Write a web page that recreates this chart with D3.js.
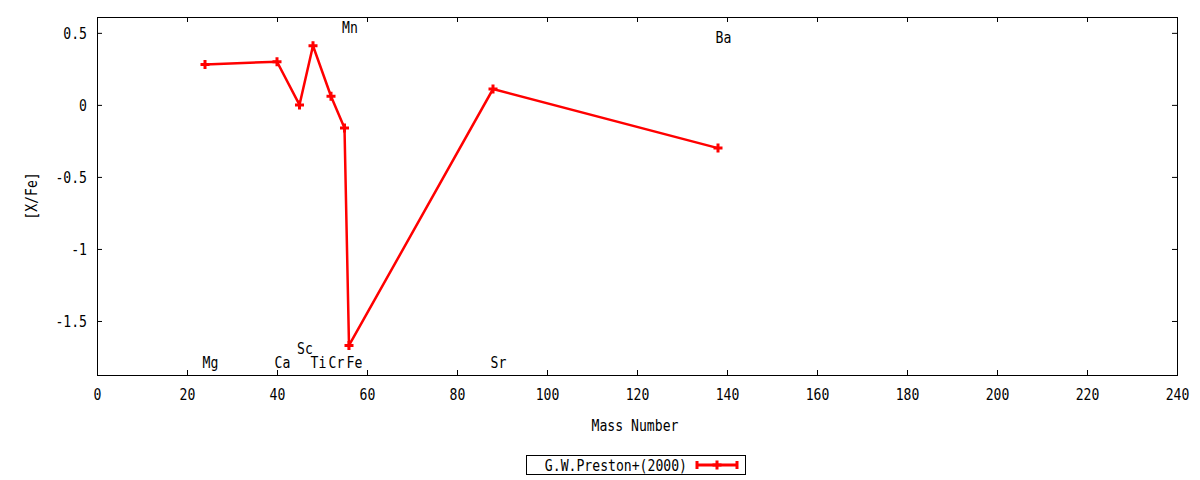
<!DOCTYPE html>
<html>
<head>
<meta charset="utf-8">
<script src="https://cdn.jsdelivr.net/npm/d3@7"></script>
<style>
  body { margin: 0; background: #fff; }
  text { font-family: "DejaVu Sans Mono", monospace; font-size: 16px; fill: #000; }
</style>
</head>
<body>
<div id="chart"></div>
<script>
// Element data: mass number and [X/Fe]
var elements = ['Mg', 'Ca', 'Sc', 'Ti', 'Cr', 'Mn', 'Fe', 'Sr', 'Ba'];
var massNumbers = [24, 40, 45, 48, 52, 55, 56, 88, 138];
var xFe = [0.28, 0.30, 0.00, 0.41, 0.06, -0.16, -1.67, 0.11, -0.30];

// Element name labels (placed at mass number, at these y values)
var labelNames = ['Mg', 'Ca', 'Sc', 'Ti', 'Cr', 'Mn', 'Fe', 'Sr', 'Ba'];
var labelMass = [24, 40, 45, 48, 52, 55, 56, 88, 138];
var labelY = [-1.785, -1.785, -1.69, -1.785, -1.785, 0.54, -1.785, -1.785, 0.47];

var xTicks = [0, 20, 40, 60, 80, 100, 120, 140, 160, 180, 200, 220, 240];
var yTicks = [-1.5, -1, -0.5, 0, 0.5];
var seriesName = 'G.W.Preston+(2000)';

var width = 1200, height = 480;
var margin = {top: 17, right: 23, bottom: 105, left: 97};
var drawWidth = width - margin.left - margin.right;
var drawHeight = height - margin.top - margin.bottom;
var SX = 0.82; // horizontal squeeze to mimic the narrow terminal font
var red = '#ff0000';

function translateString(x, y) {
  return 'translate(' + x + ', ' + y + ')';
}

var svg = d3.select('#chart').append('svg')
  .attr('width', width)
  .attr('height', height);

var x = d3.scaleLinear().domain([0, 240]).range([0, drawWidth]);
var y = d3.scaleLinear().domain([-1.875, 0.61]).range([drawHeight, 0]);

var g = svg.append('g').attr('transform', translateString(margin.left, margin.top));

// Axes: ticks point inward, mirrored on top/right
var tickLen = 5;
var xAxisBottom = g.append('g')
  .attr('transform', translateString(0, drawHeight))
  .call(d3.axisBottom(x).tickValues(xTicks).tickSizeInner(-tickLen).tickSizeOuter(0).tickFormat(d3.format('d')));
var xAxisTop = g.append('g')
  .call(d3.axisTop(x).tickValues(xTicks).tickSizeInner(-tickLen).tickSizeOuter(0).tickFormat(''));
var yAxisLeft = g.append('g')
  .call(d3.axisLeft(y).tickValues(yTicks).tickSizeInner(-tickLen).tickSizeOuter(0).tickFormat(function(d) { return String(d); }));
var yAxisRight = g.append('g')
  .attr('transform', translateString(drawWidth, 0))
  .call(d3.axisRight(y).tickValues(yTicks).tickSizeInner(-tickLen).tickSizeOuter(0).tickFormat(''));

[xAxisBottom, xAxisTop, yAxisLeft, yAxisRight].forEach(function(a) {
  a.select('.domain').remove();
  a.selectAll('line').attr('stroke', '#000').attr('stroke-width', 1);
  a.selectAll('text').attr('font-family', null).attr('font-size', null);
});

xAxisBottom.selectAll('text')
  .attr('y', 19)
  .attr('dy', '0.36em')
  .attr('transform', 'scale(' + SX + ',1)');

yAxisLeft.selectAll('text')
  .attr('x', -10 / SX)
  .attr('dy', '0.36em')
  .attr('transform', 'scale(' + SX + ',1)');

// Frame
g.append('rect')
  .attr('x', 0.5).attr('y', 0.5)
  .attr('width', drawWidth).attr('height', drawHeight)
  .attr('fill', 'none')
  .attr('stroke', '#000')
  .attr('stroke-width', 1);

function squeezedText(parent, tx, ty, str, anchor, extra) {
  return parent.append('text')
    .attr('transform', translateString(tx, ty) + (extra || '') + ' scale(' + SX + ',1)')
    .attr('text-anchor', anchor)
    .attr('dy', '0.36em')
    .text(str);
}

// Element labels
labelNames.forEach(function(name, i) {
  squeezedText(g, x(labelMass[i]) - 2.5, y(labelY[i]), name, 'start');
});

// Data line + markers
var points = massNumbers.map(function(m, i) { return {m: m, v: xFe[i], el: elements[i]}; });

var line = d3.line()
  .x(function(d) { return x(d.m); })
  .y(function(d) { return y(d.v); });

g.append('path')
  .datum(points)
  .attr('d', line)
  .attr('fill', 'none')
  .attr('stroke', red)
  .attr('stroke-width', 2.5)
  .attr('stroke-linejoin', 'miter');

var plusPath = 'M-4.5,0H4.5M0,-4.5V4.5';

g.selectAll('.pt')
  .data(points)
  .enter().append('path')
  .attr('class', 'pt')
  .attr('transform', function(d) { return translateString(x(d.m), y(d.v)); })
  .attr('d', plusPath)
  .attr('stroke', red)
  .attr('stroke-width', 3)
  .attr('fill', 'none');

// Axis titles
squeezedText(svg, margin.left + drawWidth / 2 - 2, 425, 'Mass Number', 'middle');
squeezedText(svg, 31, 196, '[X/Fe]', 'middle', ' rotate(-90)');

// Legend
var legend = svg.append('g');
legend.append('rect')
  .attr('x', 526.5).attr('y', 455.5)
  .attr('width', 219).attr('height', 19)
  .attr('fill', '#fff')
  .attr('stroke', '#000')
  .attr('stroke-width', 1);
squeezedText(legend, 687, 465, seriesName, 'end');
legend.append('line')
  .attr('x1', 697).attr('x2', 737)
  .attr('y1', 465).attr('y2', 465)
  .attr('stroke', red).attr('stroke-width', 3);
[697, 737].forEach(function(cx) {
  legend.append('line')
    .attr('x1', cx).attr('x2', cx)
    .attr('y1', 461).attr('y2', 469)
    .attr('stroke', red).attr('stroke-width', 3);
});
legend.append('path')
  .attr('transform', translateString(717, 465))
  .attr('d', plusPath)
  .attr('stroke', red)
  .attr('stroke-width', 3)
  .attr('fill', 'none');
</script>
</body>
</html>
